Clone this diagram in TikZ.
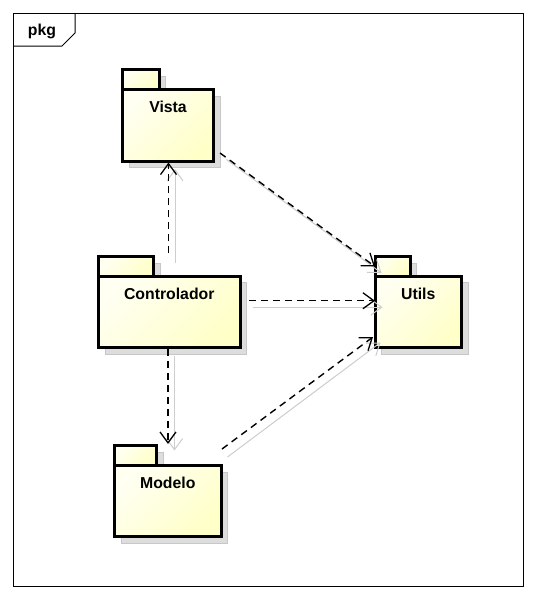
\documentclass[tikz,border=0pt]{standalone}
\usepackage{fontspec}
\setmainfont{Liberation Sans}
\usetikzlibrary{arrows.meta,calc}
\definecolor{pkgfillA}{RGB}{255,255,242}
\definecolor{pkgfillB}{RGB}{255,255,200}
\definecolor{shadowgray}{RGB}{221,221,221}
\definecolor{ghostline}{RGB}{205,205,205}
\begin{document}
\begin{tikzpicture}[x=1pt,y=-1pt,
  pkgpart/.style={draw=black, line width=3pt, inner sep=0pt, outer sep=0pt,
    top color=pkgfillA, bottom color=pkgfillB, shading angle=45},
  pkgshadow/.style={fill=shadowgray, draw=shadowgray!90!black, line width=0.6pt, inner sep=0pt, outer sep=0pt},
  lbl/.style={font=\fontsize{15.8}{19}\selectfont\bfseries, inner sep=0pt},
  dep/.style={draw=black, line width=1.4pt, dash pattern=on 7pt off 5pt,
    -{Straight Barb[length=11pt,width=16pt,line width=1.3pt]}},
  ghost/.style={draw=ghostline, line width=1pt,
    -{Straight Barb[length=11pt,width=16pt,line width=1pt]}}
]
\useasboundingbox (0,0) rectangle (537,600);
\fill[white] (0,0) rectangle (537,600);
% frame
\draw[line width=1pt] (13.5,13.5) rectangle (523.5,586.5);
\draw[line width=1pt] (13.5,46) -- (62,46) -- (75,33) -- (75,13.5);
\node[lbl] (pkg) at (42,31) {pkg};

% ---------- Vista
\node[pkgshadow, minimum width=36.5pt, minimum height=20pt] at (147.25,86) {};
\node[pkgpart, minimum width=36.5pt, minimum height=20pt] (vistatab) at (140.75,79.5) {};
\node[pkgshadow, minimum width=91pt, minimum height=71.5pt] at (174.5,131.75) {};
\node[pkgpart, minimum width=91pt, minimum height=71.5pt] (vista) at (168,125.25) {};
\node[lbl] (vistaL) at ([yshift=-17pt]vista.north) {Vista};

% ---------- Controlador
\node[pkgshadow, minimum width=55pt, minimum height=19.5pt] at (132.5,272.75) {};
\node[pkgpart, minimum width=55pt, minimum height=19.5pt] (ctrltab) at (126,266.25) {};
\node[pkgshadow, minimum width=141.5pt, minimum height=71.5pt] at (175.75,318.25) {};
\node[pkgpart, minimum width=141.5pt, minimum height=71.5pt] (ctrl) at (169.25,311.75) {};
\node[lbl] (ctrlL) at ([yshift=-17.5pt]ctrl.north) {Controlador};

% ---------- Utils
\node[pkgshadow, minimum width=35pt, minimum height=19.5pt] at (399,272.75) {};
\node[pkgpart, minimum width=35pt, minimum height=19.5pt] (utilstab) at (392.5,266.25) {};
\node[pkgshadow, minimum width=86.5pt, minimum height=71.5pt] at (424.75,318.25) {};
\node[pkgpart, minimum width=86.5pt, minimum height=71.5pt] (utils) at (418.25,311.75) {};
\node[lbl] (utilsL) at ([yshift=-17.5pt]utils.north) {Utils};

% ---------- Modelo
\node[pkgshadow, minimum width=42pt, minimum height=20pt] at (142,462) {};
\node[pkgpart, minimum width=42pt, minimum height=20pt] (modelotab) at (135.5,455.5) {};
\node[pkgshadow, minimum width=106.5pt, minimum height=71pt] at (174.25,507.5) {};
\node[pkgpart, minimum width=106.5pt, minimum height=71pt] (modelo) at (167.75,501) {};
\node[lbl] (modeloL) at ([yshift=-17.5pt]modelo.north) {Modelo};

% ---------- connector end points
\coordinate (cvS) at ($(ctrl.north)+(-0.75,-23)$);
\coordinate (cvE) at ($(vista.south)+(0.5,1.5)$);
\coordinate (cmS) at ($(ctrl.south)+(-1.25,1.5)$);
\coordinate (cmE) at ($(modelotab.north -| cmS)+(0,-1.5)$);
\coordinate (cuS) at ($(ctrl.east)+(9,-11)$);
\coordinate (cuE) at ($(utils.west)+(0,-11)$);
\coordinate (vuS) at ($(vista.south east)+(6.5,-8)$);
\coordinate (vuE) at ($(utilstab.south west)+(0,-9.5)$);
\coordinate (muS) at ($(modelo.north east)+(1,-16.5)$);
\coordinate (muE) at ($(utils.south west)+(-2,-10.5)$);

% ghost (shadow) lines
\draw[ghost] ($(cvS)+(6.5,9.5)$) -- ($(cvE)+(6.5,6.5)$);
\draw[ghost] ($(cmS)+(6.5,6.5)$) -- ($(cmE)+(6.5,6.5)$);
\draw[ghost] ($(cuS)+(3.5,6.5)$) -- ($(cuE)+(7.5,6.5)$);
\draw[ghost] ($(vuS)+(6.5,6.5)$) -- ($(vuE)+(6.5,6.5)$);
\draw[ghost] ($(muS)+(5.5,8)$) -- ($(muE)+(7.5,5.5)$);

% dependencies
\draw[dep] (cvS) -- (cvE);
\draw[dep] (cmS) -- (cmE);
\draw[dep] (cuS) -- (cuE);
\draw[dep] (vuS) -- (vuE);
\draw[dep] (muS) -- (muE);
\end{tikzpicture}
\end{document}
